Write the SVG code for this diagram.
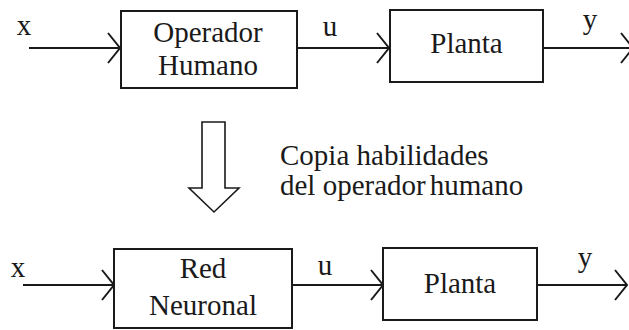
<svg xmlns="http://www.w3.org/2000/svg" width="629" height="330" viewBox="0 0 629 330">
<style>
.box{fill:#fff;stroke:#1a1a1a;stroke-width:2}
.ln{fill:none;stroke:#1a1a1a;stroke-width:2}
.hd{fill:none;stroke:#1a1a1a;stroke-width:2;stroke-linejoin:miter}
.t{font-family:'Liberation Serif','DejaVu Serif',serif;font-size:29px;fill:#1a1a1a}
.c{text-anchor:middle}
</style>
<rect width="629" height="330" fill="#fff"/>
<g id="connectors">
  <path class="ln" d="M29 48H120"/>
  <path class="hd" d="M108 33L120 48L108 63"/>
  <path class="ln" d="M297 48H389"/>
  <path class="hd" d="M377 33L389 48L377 63"/>
  <path class="ln" d="M543 48H631"/>
  <path class="hd" d="M621 33L633 48L621 63"/>
  <path class="ln" d="M23 285H114"/>
  <path class="hd" d="M102 270L114 285L102 300"/>
  <path class="ln" d="M292 285H383"/>
  <path class="hd" d="M371 270L383 285L371 300"/>
  <path class="ln" d="M537 285H626"/>
  <path class="hd" d="M615 270L627 285L615 300"/>
  <text x="24" y="35" class="t c">x</text>
  <text x="330" y="36" class="t c">u</text>
  <text x="590" y="29" class="t c">y</text>
  <text x="18" y="277" class="t c">x</text>
  <text x="325" y="275" class="t c">u</text>
  <text x="585" y="267" class="t c">y</text>
</g>
<g id="operador">
  <rect class="box" x="121" y="11" width="176" height="77"/>
  <text x="208" y="42" class="t c">Operador</text>
  <text x="208" y="75" class="t c">Humano</text>
</g>
<g id="planta1">
  <rect class="box" x="390" y="10" width="153" height="72"/>
  <text x="466.5" y="53" class="t c">Planta</text>
</g>
<g id="copia">
  <path d="M202 122H225V188H239L214 212L189 188H202Z" fill="#fff" stroke="#1a1a1a" stroke-width="1.6"/>
  <text x="280" y="165" class="t">Copia habilidades</text>
  <text x="280" y="195" class="t">del operador<tspan dx="4">humano</tspan></text>
</g>
<g id="red">
  <rect class="box" x="114" y="249" width="178" height="79"/>
  <text x="203" y="278" class="t c">Red</text>
  <text x="203" y="315" class="t c">Neuronal</text>
</g>
<g id="planta2">
  <rect class="box" x="383" y="248" width="154" height="72"/>
  <text x="460" y="293" class="t c">Planta</text>
</g>
</svg>
